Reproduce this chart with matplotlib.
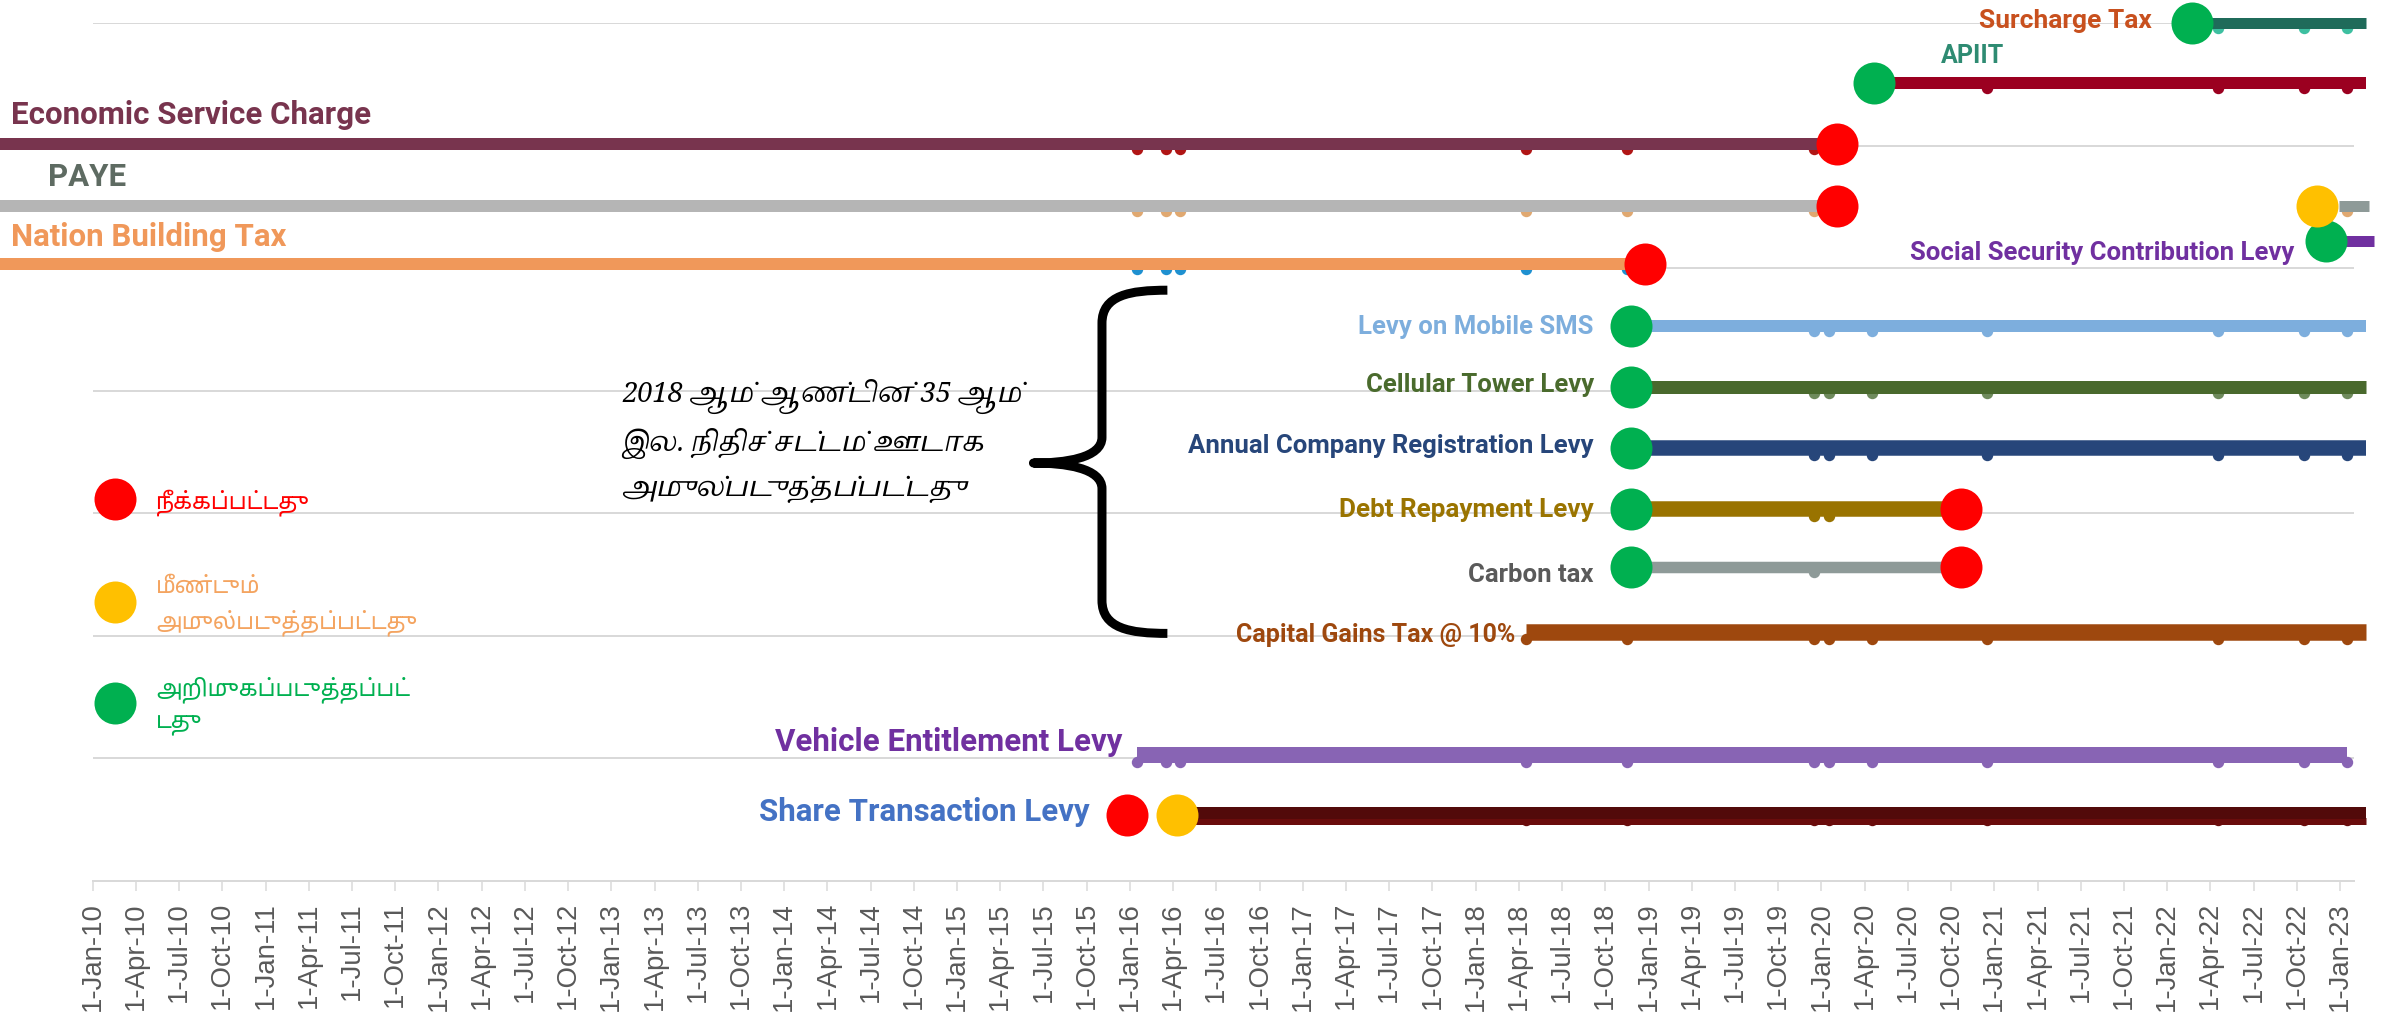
import calendar
import matplotlib
matplotlib.use("Agg")
import matplotlib.pyplot as plt
import matplotlib.font_manager as fm
from matplotlib.ft2font import FT2Font
from matplotlib.path import Path
from matplotlib.patches import PathPatch

# ---------------- data ----------------
taxes = ['Surcharge Tax', 'APIIT', 'Economic Service Charge', 'PAYE',
         'Nation Building Tax', 'Social Security Contribution Levy',
         'Levy on Mobile SMS', 'Cellular Tower Levy',
         'Annual Company Registration Levy', 'Debt Repayment Levy',
         'Carbon tax', 'Capital Gains Tax @ 10%', 'Vehicle Entitlement Levy',
         'Share Transaction Levy']
row_y = [7.0, 6.51, 6.01, 5.51, 5.03, 5.225, 4.53, 4.03, 3.53, 3.035,
         2.56, 2.035, 1.03, 0.54]
bar_start = ['2022-02-01', '2020-04-01', '2009-06-01', '2009-06-01',
             '2009-06-01', '2022-12-28', '2018-11-01', '2018-11-01',
             '2018-11-01', '2018-11-01', '2018-11-01', '2018-04-01',
             '2016-01-01', '2016-04-01']
bar_end = ['2023-02-10', '2023-02-10', '2020-01-01', '2020-01-01',
           '2018-12-01', '2023-02-25', '2023-02-10', '2023-02-10',
           '2023-02-10', '2020-10-01', '2020-10-01', '2023-02-10',
           '2023-01-01', '2023-02-10']
# PAYE re-introduced segment
paye_again_start = '2022-12-15'
paye_again_end = '2023-02-15'

event_dates = ['2016-01-01', '2016-03-01', '2016-04-01', '2018-04-01',
               '2018-11-01', '2019-12-01', '2020-01-01', '2020-04-01',
               '2020-12-01', '2022-04-01', '2022-10-01', '2023-01-01']
marker_idx = [[9, 10, 11], [8, 9, 10, 11], [0, 1, 2, 3, 4, 5],
              [0, 1, 2, 3, 4, 5, 11], [0, 1, 2, 3, 4], [],
              [5, 6, 7, 8, 9, 10, 11], [5, 6, 7, 8, 9, 10, 11],
              [5, 6, 7, 8, 9, 10, 11], [5, 6], [5],
              [3, 4, 5, 6, 7, 8, 9, 10, 11],
              [0, 1, 2, 3, 4, 5, 6, 7, 8, 9, 10, 11],
              [3, 4, 5, 6, 7, 8, 9, 10, 11]]

introduced = [('Surcharge Tax', '2022-02-07'), ('APIIT', '2020-04-05'),
              ('Social Security Contribution Levy', '2022-11-17'),
              ('Levy on Mobile SMS', '2018-11-09'),
              ('Cellular Tower Levy', '2018-11-09'),
              ('Annual Company Registration Levy', '2018-11-09'),
              ('Debt Repayment Levy', '2018-11-09'),
              ('Carbon tax', '2018-11-09')]
abolished = [('Economic Service Charge', '2020-01-18'), ('PAYE', '2020-01-18'),
             ('Nation Building Tax', '2018-12-08'),
             ('Debt Repayment Levy', '2020-10-06'), ('Carbon tax', '2020-10-06'),
             ('Share Transaction Levy', '2015-12-10')]
reintroduced = [('PAYE', '2022-10-30'), ('Share Transaction Levy', '2016-03-24')]

legend_texts = ['நீக்கப்பட்டது', 'மீண்டும்\nஅமுல்படுத்தப்பட்டது',
                'அறிமுகப்படுத்தப்பட்\nடது']
note_lines = ['2018 ஆம் ஆண்டின் 35 ஆம்', 'இல. நிதிச் சட்டம் ஊடாக',
              'அமுல்படுத்தப்பட்டது']

# ---------------- styles ----------------
PX = 72 / 100.0  # points per pixel
YPX = 122.57     # pixels per y unit
STYLE = {
    'Surcharge Tax': dict(bar='#1F6B5A', lab='#C8501E', lw=11, mc='#3DBFA0'),
    'APIIT': dict(bar='#9B0020', lab='#2E8B72', lw=12, mc='#9B0020'),
    'Economic Service Charge': dict(bar='#78344E', lab='#78344E', lw=12, mc='#B01515'),
    'PAYE': dict(bar='#B5B5B5', lab='#5E6B62', lw=12, mc='#E0A870'),
    'Nation Building Tax': dict(bar='#F0985A', lab='#F0985A', lw=12, mc='#1E90D0'),
    'Social Security Contribution Levy': dict(bar='#7030A0', lab='#7030A0', lw=11, mc='#7030A0'),
    'Levy on Mobile SMS': dict(bar='#7DAEDD', lab='#7DAEDD', lw=12, mc='#7DAEDD'),
    'Cellular Tower Levy': dict(bar='#49692D', lab='#4A6B2D', lw=13, mc='#6E8A5C'),
    'Annual Company Registration Levy': dict(bar='#27467A', lab='#27467A', lw=15.5, mc='#27467A'),
    'Debt Repayment Levy': dict(bar='#997300', lab='#9A7400', lw=15.5, mc='#997300'),
    'Carbon tax': dict(bar='#8E9A98', lab='#5A5A5A', lw=11.5, mc='#8E9A98'),
    'Capital Gains Tax @ 10%': dict(bar='#9E480E', lab='#9E480E', lw=16.5, mc='#9E480E'),
    'Vehicle Entitlement Levy': dict(bar='#8864B4', lab='#7030A0', lw=16, mc='#8864B4'),
    'Share Transaction Levy': dict(bar='#520A0A', lab='#4472C4', lw=12, mc='#6A0C0C'),
}
# label anchor (x in month units, y in value units, ha, size)
LABEL = {
    'Surcharge Tax': (142.9, 7.02, 'right', 19),
    'APIIT': (128.3, 6.73, 'left', 18),
    'Economic Service Charge': (-5.67, 6.25, 'left', 22.5),
    'PAYE': (-3.1, 5.74, 'left', 22.5),
    'Nation Building Tax': (-5.67, 5.25, 'left', 22.5),
    'Social Security Contribution Levy': (152.8, 5.12, 'right', 18.5),
    'Levy on Mobile SMS': (104.2, 4.52, 'right', 18.5),
    'Cellular Tower Levy': (104.2, 4.05, 'right', 18.5),
    'Annual Company Registration Levy': (104.2, 3.55, 'right', 18.5),
    'Debt Repayment Levy': (104.2, 3.03, 'right', 18.8),
    'Carbon tax': (104.2, 2.50, 'right', 18.5),
    'Capital Gains Tax @ 10%': (98.73, 2.01, 'right', 18),
    'Vehicle Entitlement Levy': (71.5, 1.13, 'right', 22.5),
    'Share Transaction Levy': (69.23, 0.56, 'right', 22.5),
}
RED, YELLOW, GREEN = '#FF0000', '#FFC000', '#00B050'


def mpos(s):
    y, m, d = map(int, s.split('-'))
    dim = calendar.monthrange(y, m)[1]
    return (y - 2010) * 12 + (m - 1) + (d - 1) / dim + 0.5


# ---------------- fonts ----------------
def tamil_entries():
    out = []
    for f in fm.fontManager.ttflist:
        try:
            ft = FT2Font(f.fname)
            if all(ft.get_char_index(c) for c in (0x0B85, 0x0BA4, 0x0BC1, 0x0BCD)):
                out.append(f)
        except Exception:
            pass
    return out


def pick(entries, serif, italic):
    best, bs = None, -1e9
    for f in entries:
        n = f.name
        s = 0
        if 'Mono' in n or 'Code' in n:
            s -= 20
        if 'Tamil' in n:
            s += 4
        if serif and ('Serif' in n or 'Roman' in n):
            s += 6
        if not serif and 'Sans' in n:
            s += 6
        if italic and f.style in ('italic', 'oblique'):
            s += 10
        if not italic and f.style == 'normal':
            s += 10
        if f.weight in (400, 'normal', 'regular'):
            s += 2
        if s > bs:
            best, bs = f, s
    return best

ent = tamil_entries()
note_f = pick(ent, True, True)
leg_f = pick(ent, False, False)
if note_f is not None:
    NOTE_FAM = [note_f.name, 'DejaVu Sans']
    NOTE_STYLE = note_f.style
else:
    NOTE_FAM, NOTE_STYLE = ['DejaVu Sans'], 'normal'
if leg_f is not None:
    LEG_FAM = [leg_f.name, 'DejaVu Sans']
    LEG_STYLE = leg_f.style
else:
    LEG_FAM, LEG_STYLE = ['DejaVu Sans'], 'normal'

# ---------------- figure ----------------
W, H = 2381, 1024
fig = plt.figure(figsize=(W / 100, H / 100), dpi=100)
ax = fig.add_axes([92.7 / W, 1 - 881 / H, (2354 - 92.7) / W, (881 - 23) / H])
ax.set_xlim(0, 156.97)
ax.set_ylim(0, 7)

for s in ['top', 'right', 'left']:
    ax.spines[s].set_visible(False)
ax.spines['bottom'].set_color('#D9D9D9')
ax.spines['bottom'].set_linewidth(2 * PX)
ax.set_yticks(range(0, 8))
ax.set_yticklabels([])
ax.tick_params(axis='y', length=0)
ax.grid(axis='y', color='#D9D9D9', lw=2 * PX, zorder=0)
ax.set_axisbelow(True)

mon = ['Jan', 'Feb', 'Mar', 'Apr', 'May', 'Jun', 'Jul', 'Aug', 'Sep', 'Oct', 'Nov', 'Dec']
ticks, labels = [], []
for q in range(53):
    mi = 3 * q
    ticks.append(mi)
    labels.append('1-%s-%02d' % (mon[mi % 12], (2010 + mi // 12) % 100))
ax.set_xticks(ticks)
ax.set_xticklabels(labels, rotation=90, fontsize=19.8, color='#595959',
                   family='Liberation Sans', va='top', ha='center')
ax.tick_params(axis='x', length=10 * PX, width=1.5 * PX, color='#D9D9D9', pad=8)

# bars and small markers
for i, t in enumerate(taxes):
    st = STYLE[t]
    y = row_y[i]
    idx = marker_idx[i]
    if idx:
        moff = (st['lw'] / 2 - 1) / YPX
        xs = [mpos(event_dates[k]) for k in idx]
        ax.plot(xs, [y - moff] * len(xs), ls='none', marker='o', ms=10 * PX,
                mfc=st['mc'], mec=st['mc'], zorder=2, clip_on=False)
    if t == 'Share Transaction Levy':
        ax.plot([mpos(bar_start[i]), mpos(bar_end[i])], [y - 6 / YPX] * 2,
                color='#6A0C0C', lw=7 * PX, solid_capstyle='butt', zorder=3,
                clip_on=False)
        ax.plot([mpos(bar_start[i]), mpos(bar_end[i])], [y + 2 / YPX] * 2,
                color=st['bar'], lw=12 * PX, solid_capstyle='butt', zorder=3,
                clip_on=False)
    else:
        ax.plot([mpos(bar_start[i]), mpos(bar_end[i])], [y, y], color=st['bar'],
                lw=st['lw'] * PX, solid_capstyle='butt', zorder=3, clip_on=False)
    lx, ly, ha, fs = LABEL[t]
    ax.text(lx, ly, t, ha=ha, va='center', fontsize=fs, color=st['lab'],
            family='Roboto', weight='bold', zorder=6)

# PAYE re-introduced segment
ip = taxes.index('PAYE')
ax.plot([mpos(paye_again_start), mpos(paye_again_end)], [row_y[ip]] * 2,
        color='#8E9A98', lw=11 * PX, solid_capstyle='butt', zorder=3, clip_on=False)

# big event dots
DOT = 42 * PX
for lst, col in [(introduced, GREEN), (abolished, RED), (reintroduced, YELLOW)]:
    xs = [mpos(d) for _, d in lst]
    ys = [row_y[taxes.index(n)] for n, _ in lst]
    ax.plot(xs, ys, ls='none', marker='o', ms=DOT, mfc=col, mec='none',
            zorder=5, clip_on=False)

# legend
leg_y = [3.12, 2.28, 1.45]
leg_col = [RED, '#F4A460', GREEN]
GAP = 35 / YPX
for k, (txt, col, dotc) in enumerate(zip(legend_texts, leg_col, [RED, YELLOW, GREEN])):
    ax.plot([1.55], [leg_y[k]], ls='none', marker='o', ms=DOT, mfc=dotc,
            mec='none', zorder=5, clip_on=False)
    parts = txt.split('\n')
    n = len(parts)
    for j, line in enumerate(parts):
        yy = leg_y[k] + ((n - 1) / 2 - j) * GAP
        ax.text(4.4, yy, line, ha='left', va='center_baseline', fontsize=16.5,
                color=col, family=LEG_FAM, style=LEG_STYLE, zorder=6)

# note text
for k, (txt, yy) in enumerate(zip(note_lines, [3.95, 3.57, 3.20])):
    ax.text(36.74, yy, txt, ha='left', va='center', fontsize=19.6, color='black',
            family=NOTE_FAM, style=NOTE_STYLE, zorder=6)

# curly brace
sx, tip, arm = 70.06, 65.3, 74.6
top, bot, mid = 4.82, 2.02, 3.41
verts = [(arm, top), (72.0, top), (sx, top - 0.04), (sx, top - 0.27),
         (sx, mid + 0.21),
         (sx, mid + 0.04), (67.5, mid), (tip, mid),
         (67.5, mid), (sx, mid - 0.04), (sx, mid - 0.21),
         (sx, bot + 0.27),
         (sx, bot + 0.04), (72.0, bot), (arm, bot)]
codes = [Path.MOVETO, Path.CURVE4, Path.CURVE4, Path.CURVE4,
         Path.LINETO,
         Path.CURVE4, Path.CURVE4, Path.CURVE4,
         Path.CURVE4, Path.CURVE4, Path.CURVE4,
         Path.LINETO,
         Path.CURVE4, Path.CURVE4, Path.CURVE4]
ax.add_patch(PathPatch(Path(verts, codes), fill=False, lw=9 * PX,
                       edgecolor='black', capstyle='butt', joinstyle='round',
                       clip_on=False, zorder=6))

fig.savefig('out.png', dpi=100)
